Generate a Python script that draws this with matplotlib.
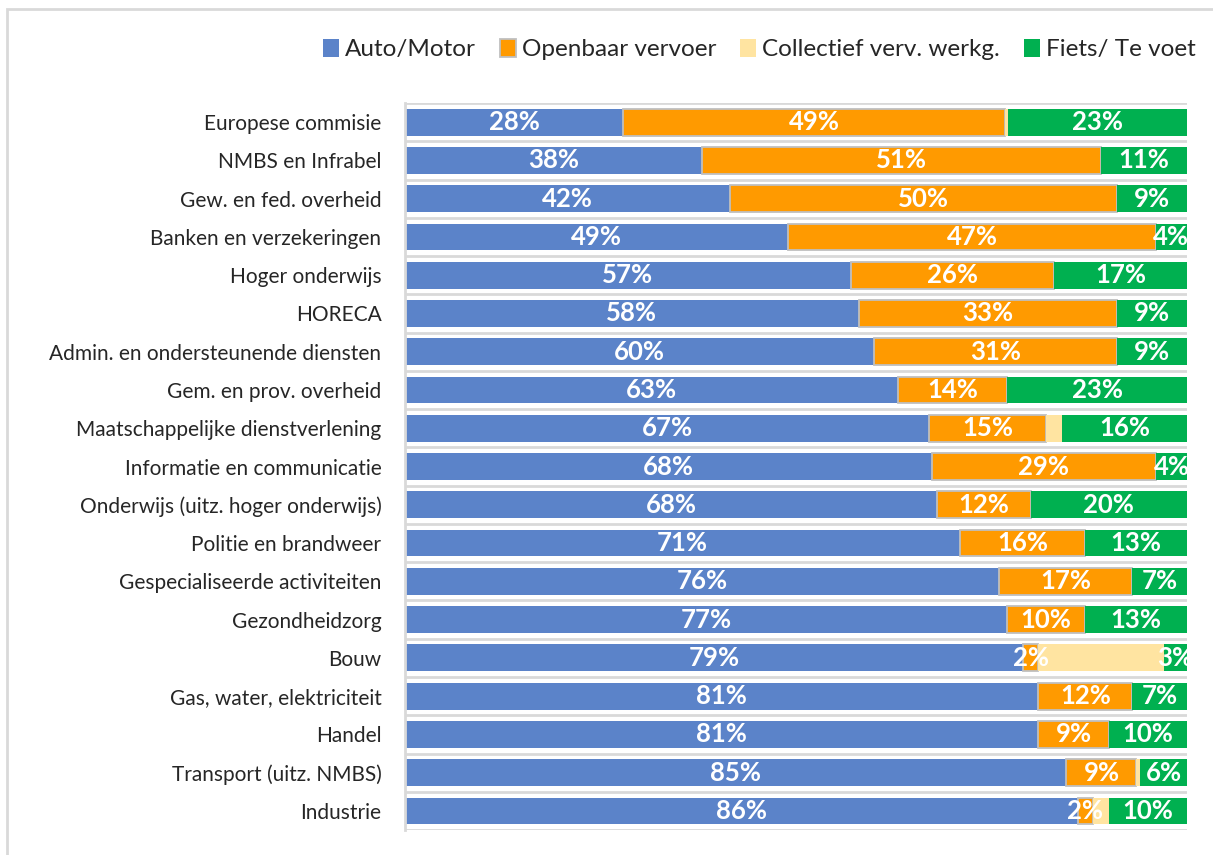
import matplotlib

matplotlib.use("Agg")
import matplotlib.pyplot as plt
import numpy as np
from matplotlib.patches import Rectangle

plt.rcParams["font.family"] = ["Lato", "DejaVu Sans"]

# Sectors, top to bottom as in the chart
sectors = [
    "Europese commisie",
    "NMBS en Infrabel",
    "Gew. en fed. overheid",
    "Banken en verzekeringen",
    "Hoger onderwijs",
    "HORECA",
    "Admin. en ondersteunende diensten",
    "Gem. en prov. overheid",
    "Maatschappelijke dienstverlening",
    "Informatie en communicatie",
    "Onderwijs (uitz. hoger onderwijs)",
    "Politie en brandweer",
    "Gespecialiseerde activiteiten",
    "Gezondheidzorg",
    "Bouw",
    "Gas, water, elektriciteit",
    "Handel",
    "Transport (uitz. NMBS)",
    "Industrie",
]

# Share per transport mode (%)
auto_motor = [28, 38, 42, 49, 57, 58, 60, 63, 67, 68, 68, 71, 76, 77, 79, 81, 81, 85, 86]
openbaar_vervoer = [49, 51, 50, 47, 26, 33, 31, 14, 15, 29, 12, 16, 17, 10, 2, 12, 9, 9, 2]
collectief = [0.4, 0, 0, 0, 0, 0, 0, 0, 2, 0, 0, 0, 0, 0, 16, 0, 0, 0.5, 2]
fiets_te_voet = [23, 11, 9, 4, 17, 9, 9, 23, 16, 4, 20, 13, 7, 13, 3, 7, 10, 6, 10]

series_names = ["Auto/Motor", "Openbaar vervoer", "Collectief verv. werkg.", "Fiets/ Te voet"]
series_colors = ["#5b83c9", "#ff9a00", "#ffe4a1", "#00b050"]
series_edges = ["none", "#bfbfbf", "none", "none"]
show_labels = [True, True, False, True]

GRID = "#d9d9d9"

values = np.array([auto_motor, openbaar_vervoer, collectief, fiets_te_voet], dtype=float)
# 100% stacked: each row normalised to its own total
shares = values / values.sum(axis=0) * 100

fig = plt.figure(figsize=(12.13, 8.55), dpi=100)
ax = fig.add_axes([0.3339, 0.0292, 0.6447, 0.8503])

y = np.arange(len(sectors))
left = np.zeros(len(sectors))
for name, share, raw, color, edge, labelled in zip(
    series_names, shares, values, series_colors, series_edges, show_labels
):
    ax.barh(y, share, left=left, height=0.7, color=color, edgecolor=edge,
            linewidth=1.3 if edge != "none" else 0, label=name, zorder=3)
    if labelled:
        for yi, s, l, v in zip(y, share, left, raw):
            if v > 0:
                ax.text(l + s / 2, yi, f"{v:.0f}%", ha="center", va="center",
                        color="white", fontsize=18.5, fontweight="bold", zorder=5)
    left += share

# Category separators (Excel-style gridlines)
ax.hlines(np.arange(len(sectors) + 1) - 0.5, 0, 100, color=GRID, linewidth=2, zorder=1)

ax.set_xlim(0, 100)
ax.set_ylim(len(sectors) - 0.5, -0.5)
ax.set_yticks(y)
ax.set_yticklabels(sectors, fontsize=15, color="#262626")
ax.tick_params(axis="y", length=0, pad=17)
ax.set_xticks([])
for side in ["top", "right", "bottom"]:
    ax.spines[side].set_visible(False)
ax.spines["left"].set_color(GRID)
ax.spines["left"].set_linewidth(2)
ax.spines["left"].set_zorder(4)

leg = fig.legend(loc="center right", bbox_to_anchor=(1.004, 0.942), ncol=4, frameon=False,
                 fontsize=17.5, handlelength=0.65, handleheight=0.8, handletextpad=0.25,
                 columnspacing=1.0, labelcolor="#262626")

# Chart border like the Excel chart area
fig.add_artist(Rectangle((7 / 1213, -0.05), 1.1, 1.05 - 9 / 855, transform=fig.transFigure,
                         fill=False, edgecolor=GRID, linewidth=2))

fig.savefig("out.png", dpi=100)
